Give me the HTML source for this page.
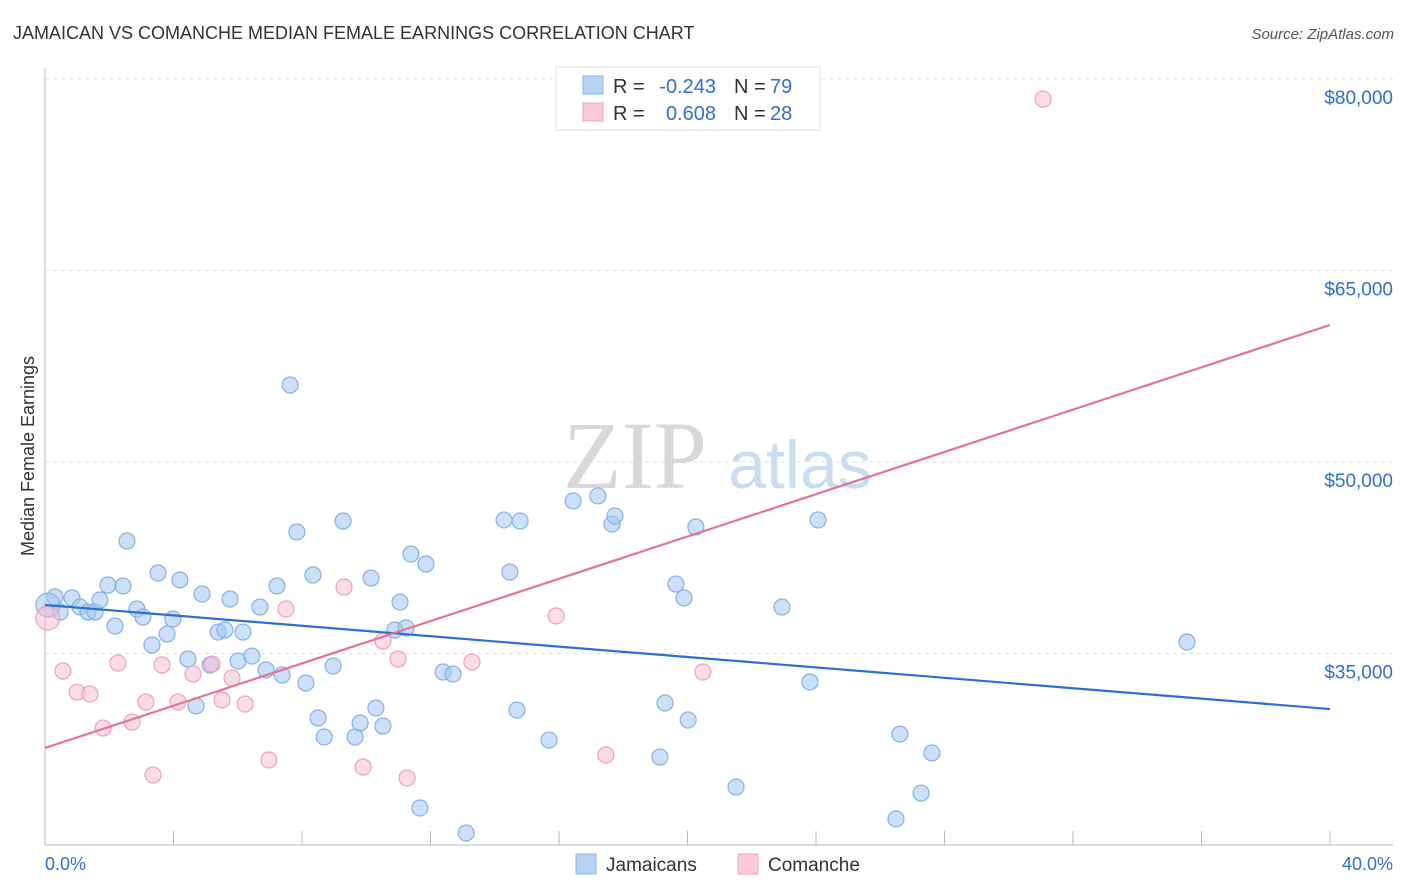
<!DOCTYPE html>
<html><head><meta charset="utf-8">
<style>
body{margin:0;background:#fff;font-family:"Liberation Sans",sans-serif;}
#c{position:relative;width:1406px;height:892px;overflow:hidden}
</style></head>
<body>
<div id="c">
<svg id="svg" width="1406" height="892" xmlns="http://www.w3.org/2000/svg">
<text x="13" y="39" font-size="18" fill="#333">JAMAICAN VS COMANCHE MEDIAN FEMALE EARNINGS CORRELATION CHART</text>
<text x="1394" y="39" font-size="15" fill="#555" font-style="italic" text-anchor="end">Source: ZipAtlas.com</text>
<text x="635" y="488" font-size="96" fill="#d8d8d8" font-family="Liberation Serif,serif" text-anchor="middle">ZIP</text>
<text x="800" y="488" font-size="68" fill="#c8dcf2" text-anchor="middle">atlas</text>
<g id="grid"></g><g id="axes"></g><g id="marks"></g><g id="trend"></g>
<text transform="translate(34,456) rotate(-90)" font-size="18" fill="#333" text-anchor="middle">Median Female Earnings</text>
<g>
<rect x="556" y="67" width="264" height="63" fill="#fff" stroke="#ddd"/>
<rect x="583" y="76" width="20" height="18" fill="#b8d2f4" stroke="#8ab4e8"/>
<rect x="583" y="103" width="20" height="18" fill="#fbcbd9" stroke="#f0a0bc"/>
<text x="613" y="93" font-size="20" fill="#333">R =</text>
<text x="716" y="93" font-size="20" fill="#2f6fd6" text-anchor="end">-0.243</text>
<text x="734" y="93" font-size="20" fill="#333">N =</text>
<text x="770" y="93" font-size="20" fill="#2f6fd6">79</text>
<text x="613" y="120" font-size="20" fill="#333">R =</text>
<text x="716" y="120" font-size="20" fill="#2f6fd6" text-anchor="end">0.608</text>
<text x="734" y="120" font-size="20" fill="#333">N =</text>
<text x="770" y="120" font-size="20" fill="#2f6fd6">28</text>
</g>
<g>
<rect x="576" y="854" width="20" height="20" fill="#b8d2f4" stroke="#8ab4e8"/>
<text x="606" y="871" font-size="19" fill="#333">Jamaicans</text>
<rect x="738" y="854" width="20" height="20" fill="#fbcbd9" stroke="#f0a0bc"/>
<text x="768" y="871" font-size="19" fill="#333">Comanche</text>
</g>
<text x="45" y="870" font-size="18" fill="#2f6fd6">0.0%</text>
<text x="1393" y="870" font-size="18" fill="#2f6fd6" text-anchor="end">40.0%</text>
</svg>
</div>
<script>
const yTicks=[80000,65000,50000,35000];
const yTickLabels=["$80,000","$65,000","$50,000","$35,000"];
const xTicks=[0,4,8,12,16,20,24,28,32,36,40];
const blueX=[0.31,0.47,0.84,1.09,1.34,1.56,1.71,1.96,2.18,2.43,2.55,2.86,3.05,3.33,3.52,3.80,3.98,4.20,4.45,4.70,4.89,5.14,5.39,5.60,5.76,6.01,6.16,6.44,6.69,6.88,7.22,7.38,7.63,7.84,8.12,8.34,8.50,8.69,8.97,9.28,9.65,9.81,10.15,10.30,10.52,10.89,11.05,11.24,11.39,11.67,11.86,12.39,12.70,13.11,14.29,14.47,14.69,14.79,15.69,16.44,17.21,17.65,17.74,19.14,19.30,19.64,19.89,20.02,20.26,21.51,22.94,23.81,24.06,26.49,26.61,27.27,27.61,35.55,0.09];
const blueY=[39425,38250,39350,38640,38250,38250,39190,40365,37150,40290,43810,38485,37860,35665,41305,36525,37700,40760,34570,30890,39660,34100,36680,36840,39270,34410,36680,34800,38640,33710,40290,33315,56030,44520,32690,41150,29950,28460,34020,45380,28460,29555,40910,30730,29320,36840,39030,37000,42790,22900,42010,33550,33390,20940,45460,41380,30570,45380,28220,46950,47340,45140,45770,26890,31120,40440,39350,29790,44910,24540,38640,32770,45460,22040,28690,24070,27210,35900,38800];
const pinkX=[0.09,0.56,1.00,1.40,1.81,2.27,2.71,3.14,3.36,3.64,4.14,4.61,5.20,5.51,5.82,6.23,6.97,7.50,9.31,9.90,10.52,10.99,11.27,13.29,15.91,17.46,20.48,31.07];
const pinkY=[37780,33630,31980,31830,29160,34255,29630,31200,25480,34100,31200,33390,34180,31360,33080,31040,26660,38485,40210,26110,35980,34570,25250,34330,37940,27050,33550,78430];
const blueTrend=[38800,30650];
const pinkTrend=[27600,60730];
const NS="http://www.w3.org/2000/svg";
const X=p=>45+p/40*1285;
const Y=v=>79+(80000-v)/15000*191.5;
function mk(t,a,parent){const e=document.createElementNS(NS,t);for(const k in a)e.setAttribute(k,a[k]);document.getElementById(parent).appendChild(e);return e;}
yTicks.forEach((v,i)=>{
 const l=mk('line',{x1:45,x2:1393,y1:Y(v),y2:Y(v),stroke:'#ddd','stroke-dasharray':'4,4'},'grid');
 
 
 const t=mk('text',{x:1393,y:Y(v)+25,'font-size':19,fill:'#2f6fd6','text-anchor':'end'},'grid');
 t.textContent=yTickLabels[i];
 
 
});
const ax=mk('line',{x1:45,x2:1393,y1:845,y2:845,stroke:'#bbb'},'axes');


const ay=mk('line',{x1:45,x2:45,y1:68,y2:845,stroke:'#bbb'},'axes');


xTicks.forEach(p=>{const t=mk('line',{x1:X(p),x2:X(p),y1:831,y2:845,stroke:'#bbb'},'axes');
 
 });
blueX.forEach((p,i)=>{const big=i===blueX.length-1;
 const c=mk('circle',{cx:X(p),cy:Y(blueY[i]),r:big?12:8,fill:'rgba(160,196,240,0.55)',stroke:'#86b0e6','stroke-width':1.2},'marks');
 
 });
pinkX.forEach((p,i)=>{const big=i===0;
 const c=mk('circle',{cx:X(p),cy:Y(pinkY[i]),r:big?12:8,fill:'rgba(248,186,206,0.5)',stroke:'#eea0ba','stroke-width':1.2},'marks');
 
 });
const bt=mk('line',{x1:X(0),y1:Y(blueTrend[0]),x2:X(40),y2:Y(blueTrend[1]),stroke:'#2a6fd8','stroke-width':2.2},'trend');


const pt=mk('line',{x1:X(0),y1:Y(pinkTrend[0]),x2:X(40),y2:Y(pinkTrend[1]),stroke:'#e8709a','stroke-width':2.2},'trend');


</script>
</body></html>
